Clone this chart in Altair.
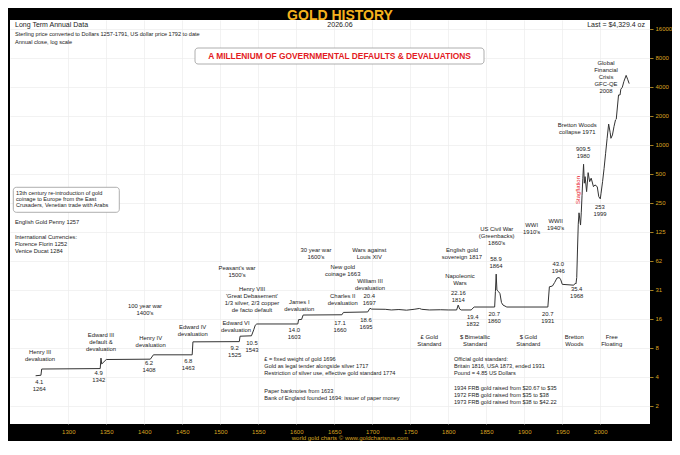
import altair as alt
import pandas as pd

FONT = "Liberation Sans"
GOLD = "#d9a521"
TITLE_GOLD = "#f5b21e"
INK = "#222222"

# ---- price series (year, USD per oz, annual close, log scale) ----
years = [1257, 1264, 1265, 1342, 1343, 1344, 1350, 1408, 1412, 1463, 1464, 1525, 1526,
         1541, 1544, 1546, 1548, 1602, 1603, 1607, 1609, 1660, 1662, 1694, 1697, 1699,
         1717, 1725, 1735, 1745, 1755, 1762, 1765, 1775, 1790, 1800, 1811, 1813, 1815,
         1817, 1830, 1834, 1861, 1862, 1863, 1864, 1866, 1868, 1870, 1872, 1877, 1931,
         1933, 1937, 1940, 1943, 1946, 1948, 1950, 1965, 1967, 1968, 1969, 1970, 1971,
         1972, 1974, 1975, 1976, 1977, 1978, 1979, 1980, 1982, 1984, 1986, 1988, 1991,
         1993, 1996, 1998, 2000, 2001, 2003, 2005, 2007, 2009, 2011, 2013, 2014, 2016,
         2018, 2020, 2021, 2024, 2026, 2027, 2029, 2031, 2034, 2036, 2038]
prices = [4.0, 4.05, 4.7, 4.75, 6.1, 5.3, 5.9, 5.95, 6.6, 6.6, 9.0, 9.05, 10.3,
          10.4, 12.0, 13.4, 13.8, 13.8, 15.3, 15.4, 17.1, 17.2, 18.2, 18.4, 20.1, 19.7,
          19.6, 19.3, 19.5, 19.2, 19.6, 20.0, 19.6, 19.3, 19.4, 19.3, 19.3, 21.7, 19.7,
          19.3, 19.3, 20.7, 20.7, 30.0, 45.5, 31.0, 30.0, 28.5, 23.0, 21.7, 20.7, 20.7,
          33.6, 34.2, 37.3, 41.4, 41.9, 39.7, 35.6, 34.9, 36.5, 36.0, 42.0, 81.0, 150.0,
          197.0, 147.0, 200.0, 300.0, 450.0, 629.0, 400.0, 468.0, 327.0, 515.0, 415.0, 451.0, 368.0,
          384.0, 368.0, 290.0, 275.0, 315.0, 415.0, 571.0, 819.0, 1171.0, 1646.0, 1339.0, 1171.0, 1268.0,
          1546.0, 1816.0, 1847.0, 3300.0, 3300.0, 3786.0, 3971.0, 4544.0, 5270.0, 4799.0, 4329.4]

# ---- axis ticks ----
y_ticks = [1.953125, 3.90625, 7.8125, 15.625, 31.25, 62.5, 125, 250, 500, 1000, 2000, 4000, 8000, 16000]
x_ticks = [1300, 1350, 1400, 1450, 1500, 1550, 1600, 1650, 1700, 1750, 1800, 1850, 1900, 1950, 2000]

# ---- event annotations anchored at (year, price) ----
ann_text = [
    "Henry III\ndevaluation", "4.1\n1264", "Edward III\ndefault &\ndevaluation", "4.9\n1342",
    "100 year war\n1400's", "Henry IV\ndevaluation", "6.2\n1408", "Edward IV\ndevaluation", "6.8\n1463",
    "Edward VI\ndevaluation", "9.2\n1525", "10.5\n1543", "Peasant's war\n1500's",
    "Henry VIII\n'Great Debasement'\n1/3 silver, 2/3 copper\nde facto default",
    "James I\ndevaluation", "14.0\n1603", "30 year war\n1600's", "New gold\ncoinage 1663",
    "Charles II\ndevaluation", "17.1\n1660", "Wars against\nLouis XIV", "William III\ndevaluation",
    "20.4\n1697", "18.6\n1695", "£ Gold\nStandard", "$ Bimetallic\nStandard",
    "English gold\nsovereign 1817", "Napoleonic\nWars", "22.16\n1814", "19.4\n1832",
    "US Civil War\n(Greenbacks)\n1860's", "58.9\n1864", "20.7\n1860", "WWI\n1910's", "WWII\n1940's",
    "43.0\n1946", "20.7\n1931", "35.4\n1968", "$ Gold\nStandard", "Bretton\nWoods", "Free\nFloating",
    "Bretton Woods\ncollapse 1971", "909.5\n1980", "253\n1999",
    "Global\nFinancial\nCrisis\nGFC-QE\n2008",
]
ann_year = [1262.8, 1261.8, 1343.0, 1340.0, 1400.9, 1408.4, 1406.2, 1463.7, 1457.9,
            1520.7, 1518.9, 1541.7, 1522.0, 1541.7, 1603.9, 1597.4, 1625.9, 1661.1,
            1661.1, 1657.5, 1696.1, 1697.0, 1696.1, 1691.7, 1775.0, 1835.1,
            1818.0, 1815.4, 1813.2, 1832.1, 1863.7, 1862.8, 1860.5, 1909.7, 1941.3,
            1944.7, 1930.8, 1968.9, 1905.3, 1965.8, 2015.0, 1969.7, 1977.6, 1999.6, 2007.5]
ann_price = [7.58, 3.73, 11.38, 4.62, 22.78, 10.52, 5.79, 13.89, 6.16,
             15.06, 8.28, 9.47, 57.2, 34.2, 25.25, 12.83, 86.9, 58.3,
             28.93, 15.28, 86.9, 41.7, 28.93, 16.3, 10.77, 10.77,
             86.9, 46.7, 31.3, 17.38, 143.7, 69.6, 18.81, 158.1, 175.2,
             62.2, 18.81, 34.2, 10.77, 10.77, 10.77, 1728.6, 973.6, 244.9, 7525.0]

# ---- left aligned notes anchored at (year, price) ----
note_text = [
    "£ = fixed weight of gold 1696\nGold as legal tender alongside silver 1717\nRestriction of silver use, effective gold standard 1774",
    "Paper banknotes from 1633\nBank of England founded 1694: issuer of paper money",
    "Official gold standard:\nBritain 1816, USA 1873, ended 1931\nPound = 4.85 US Dollars",
    "1934 FRB gold raised from $20.67 to $35\n1972 FRB gold raised from $35 to $38\n1973 FRB gold raised from $38 to $42.22",
]
note_year = [1557.9, 1557.9, 1807.5, 1807.5]
note_price = [6.26, 2.89, 6.26, 3.11]

stag_text = ["Stagflation"]
stag_year = [1971.05]
stag_price = [339.9]

one = alt.Data(values=[{}])

X = alt.X("year:Q",
          scale=alt.Scale(domain=[1223.3, 2065.4], nice=False, zero=False),
          axis=alt.Axis(values=x_ticks, format="d", title=None, labelColor=GOLD,
                        labelFont=FONT, labelFontSize=6, ticks=False, domain=False,
                        labelPadding=4.5, grid=True, gridColor="#ececec", gridWidth=0.7))
Y = alt.Y("value:Q",
          scale=alt.Scale(type="log", domain=[1.262, 19820], nice=False),
          axis=alt.Axis(orient="right", values=y_ticks, title=None,
                        labelExpr="datum.value < 16 ? format(datum.value, '.0f') : format(floor(datum.value), 'd')",
                        labelColor=GOLD, labelFont=FONT, labelFontSize=6, tickColor=GOLD,
                        tickSize=3, tickWidth=0.8, labelPadding=2, domain=False,
                        grid=True, gridColor="#ececec", gridWidth=0.7))

line = alt.Chart(pd.DataFrame({"year": years, "value": prices})).mark_line(
    color="#333333", strokeWidth=1
).encode(x=X, y=Y)

ann = alt.Chart(pd.DataFrame({"label": ann_text, "year": ann_year, "value": ann_price})).mark_text(
    align="center", baseline="top", fontSize=5.9, lineHeight=7, lineBreak="\n", font=FONT, color=INK
).encode(x=X, y=Y, text="label:N")

notes = alt.Chart(pd.DataFrame({"label": note_text, "year": note_year, "value": note_price})).mark_text(
    align="left", baseline="top", fontSize=5.6, lineHeight=7, lineBreak="\n", font=FONT, color=INK
).encode(x=X, y=Y, text="label:N")

stag = alt.Chart(pd.DataFrame({"label": stag_text, "year": stag_year, "value": stag_price})).mark_text(
    align="center", baseline="middle", angle=270, fontSize=5.9, font=FONT, color="#e8202a"
).encode(x=X, y=Y, text="label:N")


def txt(s, x, y, size, align="left", weight="normal", color=INK, font=FONT, lh=None):
    kw = dict(align=align, baseline="middle", fontSize=size, fontWeight=weight, color=color, font=font)
    if lh is not None:
        kw.update(lineBreak="\n", lineHeight=lh, baseline="top")
    return alt.Chart(one).mark_text(**kw).encode(
        x=alt.value(x), y=alt.value(y), text=alt.value(s))


def box(x1, y1, x2, y2):
    return alt.Chart(one).mark_rect(fill="white", stroke="#9a9a9a", strokeWidth=0.8, cornerRadius=3).encode(
        x=alt.value(x1), x2=alt.value(x2), y=alt.value(y1), y2=alt.value(y2))


furniture = [
    txt("GOLD HISTORY", 330, -4.5, 14, align="center", weight="bold", color=TITLE_GOLD,
        font="Liberation Sans Narrow, Arial Narrow, Liberation Sans"),
    txt("Long Term Annual Data", 5, 5, 7),
    txt("Sterling price converted to Dollars 1257-1791, US dollar price 1792 to date", 5, 14, 5.6),
    txt("Annual close, log scale", 5, 22, 5.6),
    txt("2026.06", 330, 5, 7, align="center"),
    txt("Last = $4,329.4 oz", 635, 5, 7, align="right"),
    box(185, 28, 474, 44),
    txt("A MILLENIUM OF GOVERNMENTAL DEFAULTS & DEVALUATIONS", 329.5, 36.3, 8.4,
        align="center", weight="bold", color="#e31b23"),
    box(3.3, 167.3, 109.3, 192.3),
    txt("13th century re-introduction of gold\ncoinage to Europe from the East\nCrusaders, Venetian trade with Arabs",
        6, 170.6, 5.6, lh=6),
    txt("English Gold Penny 1257", 5, 202.3, 5.7),
    txt("International Currencies:\nFlorence Florin 1252\nVenice Ducat 1284", 5, 213.7, 5.7, lh=7.2),
    txt("world gold charts © www.goldchartsrus.com", 340, 418, 6, align="center", color=GOLD),
]

chart = alt.layer(line, ann, notes, stag, *furniture).properties(
    width=640, height=404,
    autosize=alt.AutoSizeParams(type="none"),
    padding={"left": 2, "top": 12, "right": 22, "bottom": 17},
    background="black",
).configure_view(fill="white", stroke=None)

chart.save("out.html", embed_options={"renderer": "svg", "actions": False})
